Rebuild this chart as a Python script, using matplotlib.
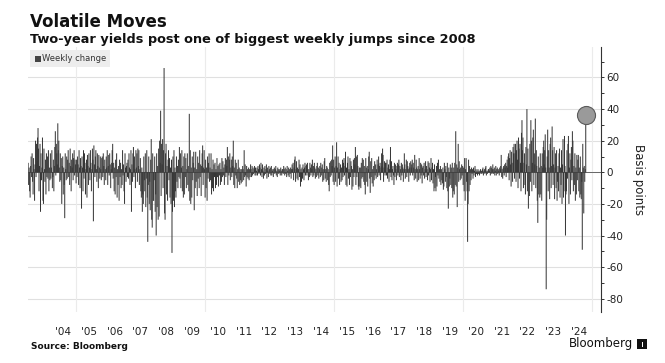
import matplotlib
matplotlib.use("Agg")
import matplotlib.pyplot as plt
import pandas as pd
from matplotlib.patches import Rectangle

plt.rcParams['axes.unicode_minus'] = False
plt.rcParams['font.family'] = ['DejaVu Sans']

# Weekly change in the two-year yield (basis points), week ending Fridays
y2003 = [6, -8, 3, -12, -16, 4, 10, -3, 12, -6, -14, 9, 2, -18, 5, 20, -3, 18, 7, 22,
         28, 15, -12, 4, 18, -25, 12, -5, 3, 22, -18, -20, 15, 2, -6, 8, -14, 12, -3, 10,
         -4, 14, -12, 3, -5]
y2004 = [12, -4, 3, 14, -10, -3, 8, -12, 4, 16, 26, -2, 18, 12, 5, 31, 14, 20, 3, -6,
         12, -5, 9, -20, 4, 10, -14, 3, -8, -29, 12, 2, -5, 10, -4, 8, 14, -3, 6, -8,
         15, 4, -12, 8, 3, 12, -5, 9, 14, -2, 8, 5, -7]
y2005 = [8, -3, 10, 5, -8, 14, 3, -10, 9, 4, -23, 10, 3, -12, 14, -4, 12, 6, -14, 2,
         8, -16, 11, 4, -8, 12, 3, -5, 14, 6, -12, 2, 15, 8, -31, 17, 5, -3, 10, 14,
         2, -6, 12, 4, -10, 11, 3, -4, 10, 2, -5, 9]
y2006 = [10, -3, 12, 4, -8, 8, 2, -5, 10, 3, 14, -8, 4, 11, -2, 12, 5, -10, 2, 6,
         14, 18, -4, 6, -12, 3, -14, 8, -3, 12, -16, 2, -8, 4, -18, 8, -3, 6, -10, 2,
         -8, 14, -2, 5, -12, -20, 12, 3, -6, 4, 6, -3]
y2007 = [8, -4, 12, 3, -8, 2, 14, -25, 5, -6, 12, 16, -3, 10, 2, -10, 14, 3, 12, -6,
         15, 4, 14, -8, 2, 9, -12, -16, 3, -25, -14, -20, 10, -5, -12, 12, -22, -4, 14, -16,
         -44, -8, 10, -20, -6, -24, 8, 21, -30, -35, 12, -18]
y2008 = [-18, -5, 10, -25, -14, -40, 12, -22, 4, -30, 15, -28, 20, 6, 39, -15, 18, 5, 21, -10,
         14, 66, -26, -30, 12, 18, -14, 4, -18, 8, 14, -5, 9, -16, 3, -20, 8, -51, -25, 10,
         -18, 14, -22, 3, -12, -16, 10, -6, 4, -10, 8, -3]
y2009 = [16, -4, 12, -10, 3, 14, -12, 4, -16, 10, -14, 12, -3, 9, -10, 2, 12, -8, 4, -12,
         37, -18, 14, -20, 3, -16, 10, -5, 6, 13, -24, 3, -10, 13, -6, 2, -15, 10, -4, 6,
         -10, 14, -3, 5, -15, 4, 12, 17, -8, 3, 14, 2]
y2010 = [-16, 8, -10, 3, -18, 10, -4, 6, 12, -6, 3, -5, 12, -14, 2, -10, 8, -12, 5, -3,
         6, -10, 2, -8, 9, -3, 4, -9, 5, -2, 6, -8, 2, -6, 9, -3, 7, -2, 3, -8,
         5, 9, -3, 8, 4, 16, -8, 10, -2, 8, 12, -5, 3]
y2011 = [8, -3, 10, 4, 20, -8, 3, -10, 8, -2, 6, -4, -10, 2, 8, -6, 3, -8, 2, -5,
         -7, 2, -6, 4, 2, -5, 14, -3, 5, -2, -9, 4, -3, 2, -4, 3, -5, 2, -3, 5,
         2, -3, 4, -2, 3, -1, 2, 4, -2, 3, -2, 1]
y2012 = [3, -2, 4, 2, -1, 5, 3, -2, 6, 2, -3, 5, 1, -4, 3, -2, 4, -1, 2, 5,
         -4, 3, 1, -3, 4, 2, -1, 3, -2, 4, -2, 1, 2, -3, 2, 3, -1, 2, 4, -2,
         1, -3, 3, 2, -1, 1, 2, -2, 3, 1, -2, 2]
y2013 = [2, -1, 4, 2, -2, 3, -1, 2, -3, 4, 1, -2, 3, -3, 2, -1, 3, -4, 2, 5,
         2, 6, -5, 3, 8, 10, -6, 2, 7, -4, 3, -5, 2, 8, -3, 5, -9, 2, -6, 3,
         -4, 5, 2, -5, 3, 6, -2, 4, 5, -2, 6, 2]
y2014 = [-5, 2, -3, 6, 3, -2, 5, 2, 8, -3, 4, -2, 6, 3, -4, 2, -3, 4, 6, -2,
         3, -4, 2, 4, -3, 6, -2, 3, 5, -6, 2, -5, 7, 9, -4, 2, -6, 4, 3, -5,
         2, -8, -12, 6, -3, 7, -2, 8, 4, 17, -6, 8]
y2015 = [-8, 3, 10, -6, 4, 19, -9, 3, 10, -4, 6, -8, 2, 5, -6, 3, -5, 8, -3, 6,
         9, -2, 4, 13, -8, 3, -9, 6, 10, -4, 2, -8, 9, -3, 7, 4, -11, 2, -9, 8,
         -3, 9, 5, 16, -8, 10, -3, 11, 4, -9, -11, 3]
y2016 = [-9, 3, -10, 6, -4, 9, -3, 8, -6, 4, -8, -14, 9, 3, -6, 4, -9, 2, 10, 13,
         -4, -13, 7, -3, 9, -7, 2, -9, 4, -5, 7, -2, 5, -4, 2, 8, -3, 5, 10, -2,
         4, 6, -5, 3, 12, 4, 15, 11, -6, 3, 7, -2, 6]
y2017 = [6, -2, 8, -4, 3, 5, -6, 2, 8, 16, -3, 7, -5, 2, 4, -2, -8, 6, -3, 5,
         2, -5, 4, 6, -2, 5, 8, -3, 4, 2, -5, 6, -2, 5, 3, -6, 2, 12, 5, -4,
         2, 8, -3, 7, 4, 2, -6, 3, 6, -2, 7, 3]
y2018 = [5, 8, -2, 6, 3, -5, 11, 2, -4, 8, 3, -6, 2, 4, -5, 9, 2, -4, 6, -2,
         5, -7, 3, 4, -2, 6, -4, 2, 7, -3, 4, 2, -5, 7, -2, 6, 3, -6, 2, 9,
         -5, 3, 6, -7, 2, -12, 5, -10, -3, -12, 4, -9]
y2019 = [6, -2, 8, -4, 2, -6, 4, -8, 2, -5, -7, 3, -11, -9, 6, 2, -6, 4, -3, -10,
         6, -12, -23, 3, -9, -4, 5, -8, 3, -10, 6, -16, -12, 3, -14, 6, -8, 26, -9, 5,
         -22, 3, 18, -6, 7, 2, -5, 3, -4, 5, -2, 4]
y2020 = [-8, 3, -12, 9, -18, 2, 9, -6, -12, -44, -20, 8, -12, 4, -8, 2, -5, 3, -1, 2,
         -4, 3, -2, 1, 4, -3, 2, -1, 1, -2, 2, -1, 1, -2, 1, 2, -1, 1, -1, 2,
         3, -2, 1, 2, -1, 3, 4, -2, 1, -1, 1, 2]
y2021 = [2, 1, 3, -2, 4, 3, -1, 2, 5, -1, 2, 3, -2, 1, 4, -2, 2, 3, -1, 2,
         1, -2, 3, 2, 4, 11, -3, 2, -4, 3, 4, -2, 5, 3, 6, -3, 4, 8, 3, 10,
         12, -5, 9, 14, 5, -9, 13, 6, -6, 16, 12, 18, -4]
y2022 = [12, 18, -6, 14, 20, 8, -10, 22, 15, -4, 18, 6, -12, 25, 33, 14, 22, -10, 6, 12,
         -8, -14, 16, 5, 40, -12, 15, -23, 4, -15, 18, -6, 33, 20, -12, 6, 22, 27, -8, 12,
         5, 34, -10, 14, 4, -18, -32, 10, -14, 3, -16, 12]
y2023 = [-14, 4, -18, 12, 3, 16, 20, 5, 14, 24, 3, -74, -30, 10, 27, -12, 14, 3, -17, 18,
         22, -10, 4, 29, 14, -8, 5, 16, -17, 3, 12, -10, 14, -18, -6, 4, -12, 12, 15, -16,
         3, -8, 14, -20, 5, 21, -16, -12, 23, 4, -40, -14]
y2024 = [-12, 14, -4, 18, 23, -20, 3, 12, -14, 8, 16, -5, 26, 20, -12, 4, -8, 12, -18, 3,
         -14, 11, -5, 8, 11, -12, 3, -16, 10, -14, -17, -6, -49, 18, 3, -26, 4, -6, 2, 36]

last_week = '2024-10-04'
year_labels = ["'04", "'05", "'06", "'07", "'08", "'09", "'10", "'11", "'12", "'13", "'14",
               "'15", "'16", "'17", "'18", "'19", "'20", "'21", "'22", "'23", "'24"]
label_years = list(range(2004, 2025))
grid_years = [2005, 2010, 2015, 2020, 2025]
y_ticks = [-80, -60, -40, -20, 0, 20, 40, 60]
y_minor = [-70, -50, -30, -10, 10, 30, 50, 70]

values = (y2003 + y2004 + y2005 + y2006 + y2007 + y2008 + y2009 + y2010 + y2011 + y2012 +
          y2013 + y2014 + y2015 + y2016 + y2017 + y2018 + y2019 + y2020 + y2021 + y2022 +
          y2023 + y2024)
dates = pd.date_range(end=last_week, periods=len(values), freq='W-FRI')

W, H = 665, 363
fig = plt.figure(figsize=(W / 100, H / 100), dpi=100)
fig.patch.set_facecolor('white')

ax_l, ax_r, ax_t, ax_b = 28, 600.5, 47, 312
ax = fig.add_axes([ax_l / W, 1 - ax_b / H, (ax_r - ax_l) / W, (ax_b - ax_t) / H])

bar_col = '#363636'
lc = ax.vlines(dates, 0, values, colors=bar_col, linewidth=0.72, zorder=2)
lc.set_snap(False)
lc.set_antialiased(True)
ax.axhline(0, color=bar_col, lw=0.5, zorder=2)
ax.plot([dates[-1]], [values[-1]], 'o', ms=13, mfc='#9a9a9a', mec='#5a5a5a', mew=0.8, zorder=3)

ax.set_xlim(pd.Timestamp('2003-02-19'), pd.Timestamp('2025-05-01'))
ax.set_ylim(-88.4, 79.3)

# grid
for yv in y_ticks:
    ax.axhline(yv, color='#e0e0e0', lw=0.8, zorder=0)
for gy in grid_years:
    ax.axvline(pd.Timestamp(f'{gy}-01-01'), color='#ebebeb', lw=0.8, zorder=0)

for s in ['top', 'left', 'bottom']:
    ax.spines[s].set_visible(False)
ax.spines['right'].set_color('#333333')
ax.spines['right'].set_linewidth(0.8)

ax.yaxis.tick_right()
ax.set_yticks(y_ticks)
ax.set_yticks(y_minor, minor=True)
ax.set_yticklabels([str(v) for v in y_ticks])
ax.tick_params(axis='y', which='both', direction='out', length=2.5, width=0.7,
               colors='#333333', labelsize=7.5, pad=1.5, labelcolor='#222222')

ax.set_xticks([pd.Timestamp(f'{y}-07-01') for y in label_years])
ax.set_xticklabels(year_labels)
ax.tick_params(axis='x', length=0, labelsize=7.5, pad=11, labelcolor='#222222')

fig.text(639 / W, 1 - 180 / H, 'Basis points', rotation=270, ha='center', va='center',
         fontsize=8.5, color='#222222')

# legend
fig.patches.append(Rectangle((30 / W, 1 - 67 / H), 80 / W, 17 / H, transform=fig.transFigure,
                             facecolor='#ededed', edgecolor='none', zorder=5))
fig.patches.append(Rectangle((35 / W, 1 - 61.5 / H), 5.5 / W, 5.5 / H, transform=fig.transFigure,
                             facecolor='#444444', edgecolor='none', zorder=6))
fig.text(42.5 / W, 1 - 58.7 / H, 'Weekly change', ha='left', va='center', fontsize=6,
         color='#333333', zorder=7)

# titles
fig.text(30 / W, 1 - 27 / H, 'Volatile Moves', ha='left', va='baseline', fontsize=12,
         fontweight='bold', color='#111111')
fig.text(30 / W, 1 - 43 / H, 'Two-year yields post one of biggest weekly jumps since 2008',
         ha='left', va='baseline', fontsize=9.3, fontweight='bold', color='#111111')

fig.text(31 / W, 1 - 349 / H, 'Source: Bloomberg', ha='left', va='baseline', fontsize=6.5,
         fontweight='bold', color='#111111')
fig.text(633 / W, 1 - 347.5 / H, 'Bloomberg', ha='right', va='baseline', fontsize=8.5,
         color='#111111')
fig.patches.append(Rectangle((637 / W, 1 - 349 / H), 10 / W, 10 / H, transform=fig.transFigure,
                             facecolor='#111111', edgecolor='none'))
for dx in (639.5, 642, 644.5):
    fig.patches.append(Rectangle((dx / W, 1 - 346.5 / H), 0.8 / W, 5 / H, transform=fig.transFigure,
                                 facecolor='white', edgecolor='none'))

fig.savefig('out.png', dpi=100, facecolor='white')
